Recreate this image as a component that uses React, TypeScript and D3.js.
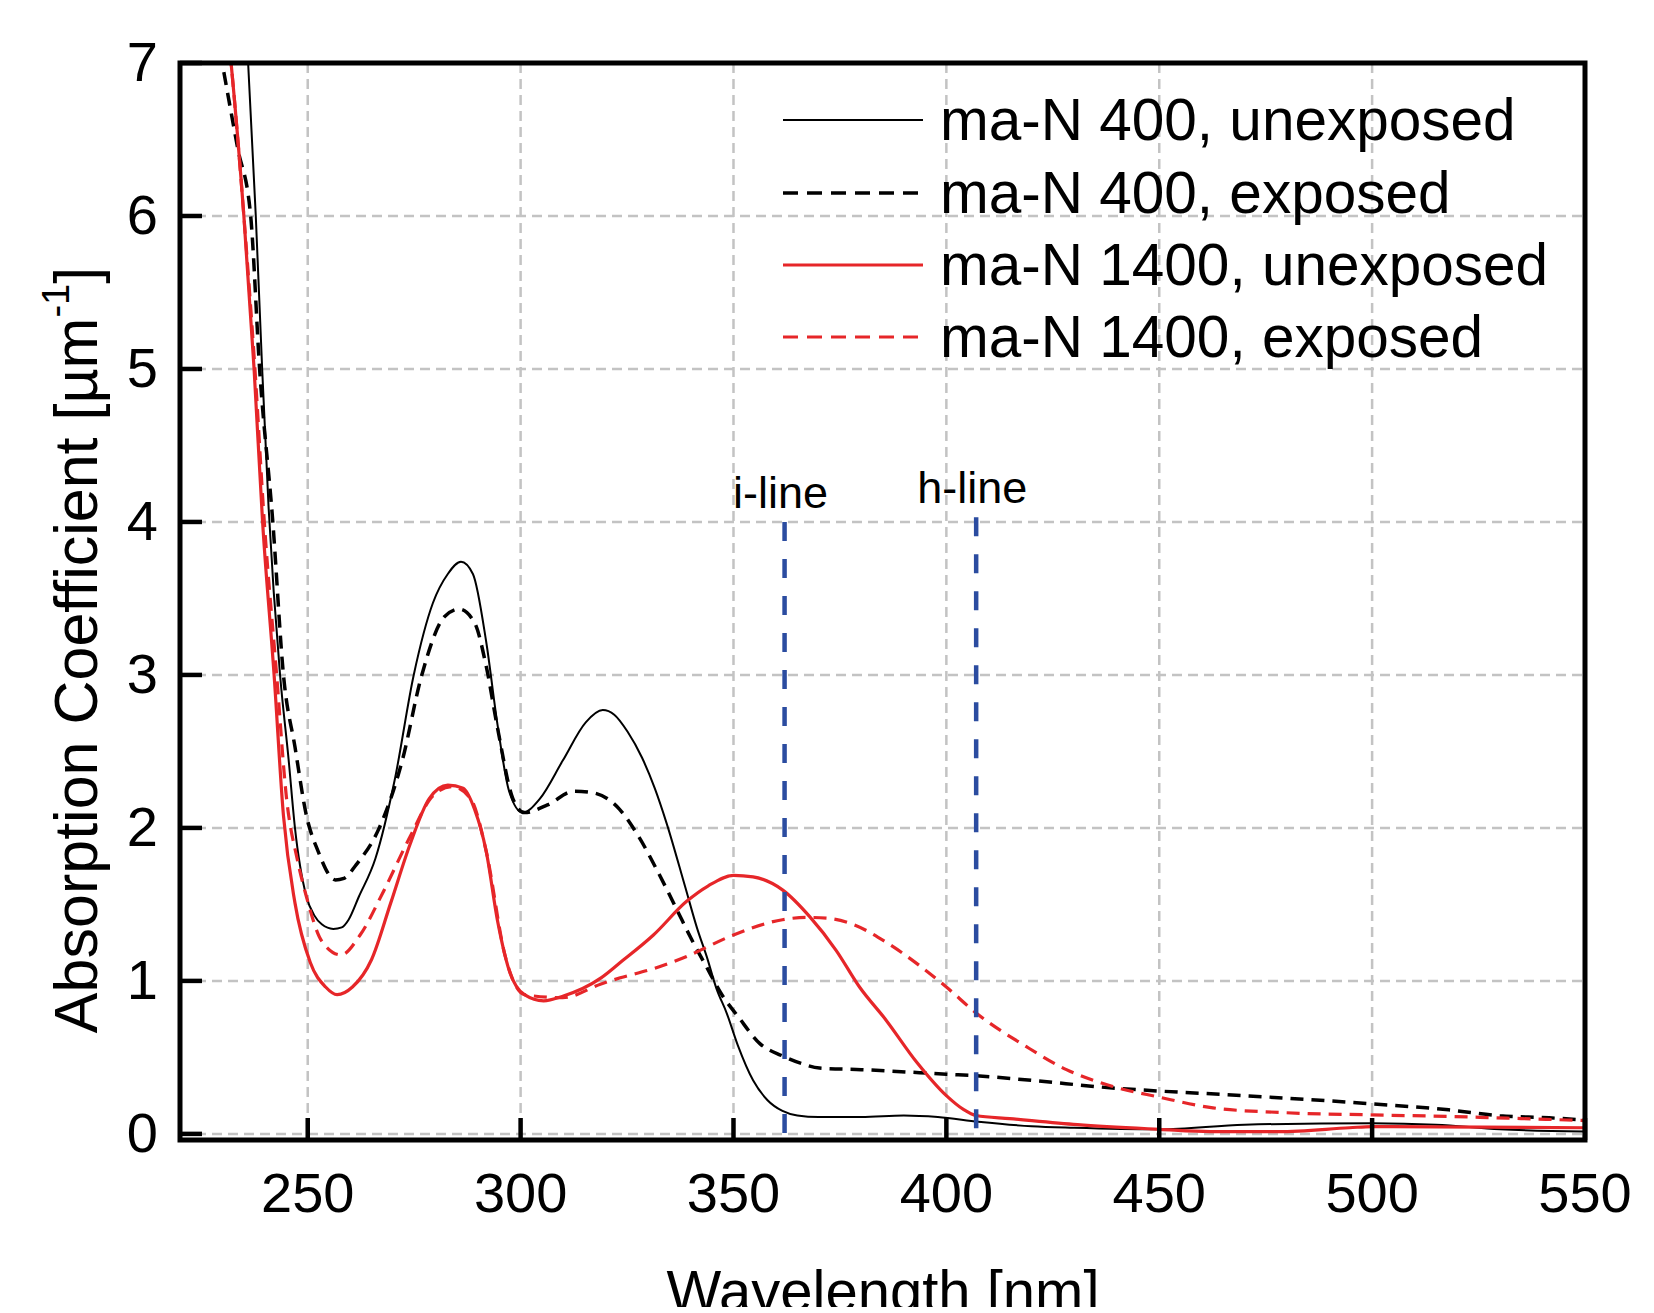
import React, { useEffect, useRef } from "react";
import * as d3 from "d3";

// ma-N 400, unexposed
const wl400u = [235.5, 236, 237.8, 239.3, 240.8, 243.5, 245.5, 247, 249.7, 251.5, 253.3, 256, 258, 259.6, 262, 265.9, 270.4, 274.9, 279.4, 282.9, 286, 288.8, 291.9, 294.6, 297.3, 300.5, 304.5, 309.9, 315.3, 319.3, 322, 325.1, 328.5, 331.5, 334.3, 338.6, 341.5, 343.7, 346, 348.4, 351, 354.6, 358, 361.5, 365, 370, 380, 390, 398, 407.5, 420, 430, 450, 470, 500, 515, 530, 550];
const abs400u = [7.25, 7.0, 6.0, 5.0, 4.1, 3.0, 2.45, 2.0, 1.55, 1.43, 1.37, 1.34, 1.35, 1.4, 1.55, 1.8, 2.31, 3.0, 3.47, 3.66, 3.74, 3.66, 3.22, 2.67, 2.24, 2.1, 2.19, 2.44, 2.69, 2.77, 2.74, 2.63, 2.46, 2.26, 2.03, 1.62, 1.34, 1.16, 0.95, 0.79, 0.58, 0.35, 0.22, 0.15, 0.12, 0.11, 0.11, 0.12, 0.11, 0.08, 0.05, 0.04, 0.03, 0.06, 0.07, 0.06, 0.03, 0.015];

// ma-N 400, exposed
const wl400e = [230.3, 233.5, 236.6, 238.7, 241.8, 244.3, 247, 249.7, 252.4, 256.5, 258.5, 261.4, 266.8, 272.2, 276.7, 282.1, 285.6, 289.2, 291.9, 294.6, 298.2, 300.9, 306.3, 312.6, 317, 323.3, 327.8, 332.3, 336.8, 340, 343.5, 347.5, 351, 356.2, 361.5, 366, 370.2, 380, 393.7, 400, 407, 420, 439, 450, 470, 500, 518, 530, 541.6, 550];
const abs400e = [6.94, 6.45, 6.0, 5.0, 4.0, 3.0, 2.53, 2.08, 1.85, 1.66, 1.67, 1.76, 2.0, 2.44, 2.99, 3.38, 3.43, 3.34, 3.06, 2.65, 2.19, 2.1, 2.15, 2.24, 2.23, 2.12, 1.94, 1.71, 1.46, 1.28, 1.1, 0.9, 0.77, 0.59, 0.51, 0.46, 0.43, 0.42, 0.4, 0.39, 0.38, 0.35, 0.3, 0.28, 0.25, 0.196, 0.157, 0.118, 0.105, 0.09];

// ma-N 1400, unexposed
const wl1400u = [231.3, 232, 235, 237.4, 239.4, 242.1, 244.3, 247, 250.6, 254.2, 256.9, 260.5, 265, 269.5, 274, 278.5, 282.9, 286.5, 289.2, 291.9, 294.6, 297.3, 300.9, 305.4, 309.9, 318.9, 323.4, 331.2, 339, 344, 350, 354.6, 361.5, 367.9, 374.1, 379.6, 385.8, 393, 400, 404, 407, 414.9, 430.8, 450, 462, 478, 494.7, 500, 550];
const abs1400u = [7.2, 7.0, 6.0, 5.0, 4.0, 3.0, 2.08, 1.51, 1.12, 0.96, 0.91, 0.96, 1.14, 1.51, 1.89, 2.19, 2.28, 2.26, 2.12, 1.85, 1.39, 1.07, 0.91, 0.87, 0.9, 1.02, 1.12, 1.3, 1.52, 1.62, 1.69, 1.68, 1.595, 1.42, 1.2, 0.96, 0.745, 0.47, 0.25, 0.16, 0.12, 0.1, 0.06, 0.03, 0.015, 0.015, 0.04, 0.048, 0.04];

// ma-N 1400, exposed
const wl1400e = [231.3, 232, 235, 237.6, 239.8, 242.7, 245, 247.5, 249.7, 253.3, 257.8, 262.3, 267.7, 274, 279.4, 283.8, 288.3, 291.9, 296.4, 300.9, 309.9, 318.9, 323.4, 331.2, 339, 350, 361.5, 367, 372, 378, 386, 393.7, 400, 407, 418.8, 428.2, 439.1, 450, 462.6, 478.4, 500, 518, 535, 550];
const abs1400e = [7.2, 7.0, 6.0, 5.0, 4.0, 3.0, 2.2, 1.8, 1.55, 1.26, 1.17, 1.3, 1.58, 1.94, 2.21, 2.27, 2.19, 1.85, 1.16, 0.91, 0.89, 0.98, 1.02, 1.08, 1.16, 1.3, 1.4, 1.415, 1.41, 1.37, 1.25, 1.1, 0.96, 0.79, 0.57, 0.42, 0.31, 0.24, 0.17, 0.14, 0.124, 0.114, 0.1, 0.087];

const seriesNames = ["ma-N 400, unexposed", "ma-N 400, exposed", "ma-N 1400, unexposed", "ma-N 1400, exposed"];
const seriesColors = ["#000000", "#000000", "#e62629", "#e62629"];
const seriesDash = [null, "13,8", null, "13,8"];
const seriesWidth = [2, 3.5, 3.2, 3.2];

const lineNames = ["i-line", "h-line"];
const lineWl = [362, 407];
const lineTop = [4.0, 4.03];

const xTicks = [250, 300, 350, 400, 450, 500, 550];
const yTicks = [0, 1, 2, 3, 4, 5, 6, 7];

const FONT = "'Liberation Sans', Arial, sans-serif";

const App = () => {
  const ref = useRef<SVGSVGElement>(null);

  useEffect(() => {
    const W = 1654, H = 1313;
    const left = 180, right = 1585, top = 63, bottom = 1140;
    const svg = d3.select(ref.current);
    svg.selectAll("*").remove();
    svg.attr("width", W).attr("height", H);

    const x = d3.scaleLinear().domain([220, 550]).range([left, right]);
    const y = d3.scaleLinear().domain([-0.04, 7]).range([bottom, top]);

    const defs = svg.append("defs");
    defs.append("clipPath").attr("id", "plotclip")
      .append("rect").attr("x", left).attr("y", top).attr("width", right - left).attr("height", bottom - top);
    defs.append("clipPath").attr("id", "pageclip")
      .append("rect").attr("x", 0).attr("y", 0).attr("width", W).attr("height", 1307);

    svg.append("rect").attr("width", W).attr("height", H).attr("fill", "#fff");

    // grid
    const grid = svg.append("g");
    grid.selectAll(".vg").data(xTicks.filter(d => d < 550)).enter().append("line")
      .attr("x1", d => x(d)).attr("x2", d => x(d)).attr("y1", top).attr("y2", bottom)
      .attr("stroke", "#c3c3c3").attr("stroke-width", 2.5).attr("stroke-dasharray", "10,6");
    grid.selectAll(".hg").data(yTicks.filter(d => d < 7)).enter().append("line")
      .attr("x1", left).attr("x2", right).attr("y1", d => y(d)).attr("y2", d => y(d))
      .attr("stroke", "#c3c3c3").attr("stroke-width", 2.5).attr("stroke-dasharray", "10,6");

    // curves
    const series = [
      [wl400u, abs400u], [wl400e, abs400e], [wl1400u, abs1400u], [wl1400e, abs1400e],
    ];
    const line = d3.line<[number, number]>()
      .x(d => x(d[0])).y(d => y(d[1]))
      .curve(d3.curveMonotoneX);
    const curves = svg.append("g").attr("clip-path", "url(#plotclip)");
    series.forEach(([wl, ab], i) => {
      const pts = wl.map((w, k) => [w, ab[k]] as [number, number]);
      curves.append("path")
        .attr("d", line(pts))
        .attr("fill", "none")
        .attr("stroke", seriesColors[i])
        .attr("stroke-width", seriesWidth[i])
        .attr("stroke-dasharray", seriesDash[i])
        .attr("stroke-linejoin", "round");
    });

    // exposure lines
    lineNames.forEach((name, i) => {
      svg.append("line")
        .attr("x1", x(lineWl[i])).attr("x2", x(lineWl[i]))
        .attr("y1", y(lineTop[i])).attr("y2", y(0))
        .attr("stroke", "#2b4ca0").attr("stroke-width", 4.5)
        .attr("stroke-dasharray", "19,18");
      svg.append("text")
        .attr("x", x(lineWl[i]) - 4).attr("y", y(lineTop[i]) - 14)
        .attr("text-anchor", "middle")
        .attr("font-family", FONT).attr("font-size", 45)
        .text(name);
    });

    // frame
    svg.append("rect")
      .attr("x", left).attr("y", top).attr("width", right - left).attr("height", bottom - top)
      .attr("fill", "none").attr("stroke", "#000").attr("stroke-width", 5);

    // ticks
    svg.selectAll(".xt").data(xTicks).enter().append("line")
      .attr("x1", d => x(d)).attr("x2", d => x(d)).attr("y1", bottom).attr("y2", bottom - 22)
      .attr("stroke", "#000").attr("stroke-width", 4.5);
    svg.selectAll(".yt").data(yTicks).enter().append("line")
      .attr("x1", left).attr("x2", left + 22).attr("y1", d => y(d)).attr("y2", d => y(d))
      .attr("stroke", "#000").attr("stroke-width", 4.5);

    svg.selectAll(".xl").data(xTicks).enter().append("text")
      .attr("x", d => x(d)).attr("y", 1212)
      .attr("text-anchor", "middle")
      .attr("font-family", FONT).attr("font-size", 56)
      .text(d => d);
    svg.selectAll(".yl").data(yTicks).enter().append("text")
      .attr("x", 158).attr("y", d => y(d) + 18)
      .attr("text-anchor", "end")
      .attr("font-family", FONT).attr("font-size", 56)
      .text(d => d);

    // axis titles
    svg.append("text")
      .attr("clip-path", "url(#pageclip)")
      .attr("x", 883).attr("y", 1311)
      .attr("text-anchor", "middle")
      .attr("font-family", FONT).attr("font-size", 58)
      .text("Wavelength [nm]");

    const yt = svg.append("text")
      .attr("transform", "translate(97,650) rotate(-90)")
      .attr("text-anchor", "middle")
      .attr("font-family", FONT).attr("font-size", 61);
    yt.append("tspan").text("Absorption Coefficient [µm");
    yt.append("tspan").attr("font-size", 38).attr("dy", -28).text("-1");
    yt.append("tspan").attr("dy", 28).text("]");

    // legend
    const legRows = [120, 193, 265, 337];
    seriesNames.forEach((name, i) => {
      svg.append("line")
        .attr("x1", 783).attr("x2", 923).attr("y1", legRows[i]).attr("y2", legRows[i])
        .attr("stroke", seriesColors[i])
        .attr("stroke-width", seriesWidth[i])
        .attr("stroke-dasharray", seriesDash[i] ? "15,9" : null);
      svg.append("text")
        .attr("x", 940).attr("y", legRows[i] + 20)
        .attr("font-family", FONT).attr("font-size", 58.5)
        .text(name);
    });
  }, []);

  return <svg ref={ref} style={{ position: "absolute", left: 0, top: 0 }} />;
};

export default App;
